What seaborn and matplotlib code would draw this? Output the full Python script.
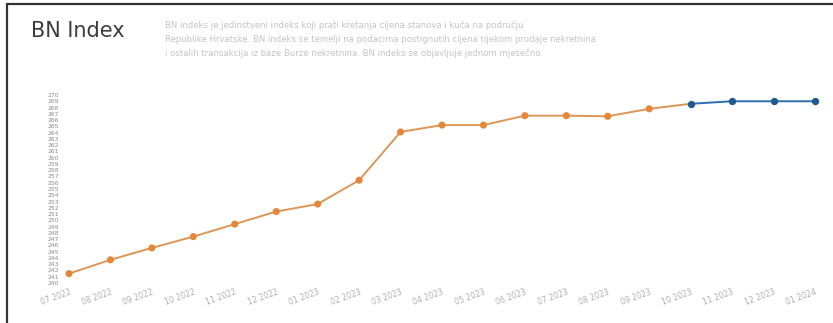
import numpy as np
import pandas as pd
import seaborn as sns
import matplotlib
matplotlib.use("Agg")
import matplotlib.pyplot as plt
from matplotlib.lines import Line2D

months = ["07 2022", "08 2022", "09 2022", "10 2022", "11 2022", "12 2022",
          "01 2023", "02 2023", "03 2023", "04 2023", "05 2023", "06 2023",
          "07 2023", "08 2023", "09 2023", "10 2023", "11 2023", "12 2023", "01 2024"]
actual_values = [241.5, 243.7, 245.6, 247.4, 249.4, 251.4, 252.6, 256.4, 264.1,
                 265.2, 265.2, 266.7, 266.7, 266.6, 267.8, 268.6]
forecast_values = [268.6, 269.0, 269.0, 269.0]
y_ticks = list(range(240, 271))

title = "BN Index"
description = ("BN indeks je jedinstveni indeks koji prati kretanja cijena stanova i kuća na području\n"
               "Republike Hrvatske. BN indeks se temelji na podacima postignutih cijena tijekom prodaje nekretnina\n"
               "i ostalih transakcija iz baze Burze nekretnina. BN indeks se objavljuje jednom mjesečno.")

sns.set_theme(style="white")
plt.rcParams['font.family'] = ['DejaVu Sans']

n_act = len(actual_values)
act_df = pd.DataFrame({"idx": np.arange(n_act), "value": actual_values})
fc_df = pd.DataFrame({"idx": np.arange(n_act - 1, n_act - 1 + len(forecast_values)),
                      "value": forecast_values})

W, H = 833, 323
fig = plt.figure(figsize=(W / 100, H / 100), dpi=100)
ax = fig.add_axes([62 / W, (H - 283) / H, 760 / W, 188 / H])

orange_line = "#dc9656"
orange_mk = "#e4873a"
blue_line = "#2d6fae"
blue_mk = "#1f5b93"

sns.lineplot(data=act_df, x="idx", y="value", ax=ax, color=orange_line, lw=1.4,
             clip_on=False)
sns.scatterplot(data=act_df.iloc[:-1], x="idx", y="value", ax=ax, color=orange_mk,
                s=26, edgecolor="none", clip_on=False, zorder=3)
sns.lineplot(data=fc_df, x="idx", y="value", ax=ax, color=blue_line, lw=1.4,
             marker="o", markersize=5.3, markeredgewidth=0, markerfacecolor=blue_mk,
             clip_on=False, zorder=4)

ax.set_xlim(-7 / 41.44, len(months) - 1 + 7 / 41.44)
ax.set_ylim(240, 270)
ax.set_xticks(range(len(months)))
ax.set_xticklabels(months, rotation=20, ha="right", rotation_mode="anchor",
                   fontsize=5.6, color="#b0b0b0")
ax.set_yticks(y_ticks)
ax.set_yticklabels([str(v) for v in y_ticks], fontsize=4.3, color="#8a8a8a")
ax.tick_params(axis="both", length=0, pad=2)
ax.tick_params(axis="x", pad=3)
ax.set_xlabel("")
ax.set_ylabel("")
for s in ax.spines.values():
    s.set_visible(False)
ax.grid(False)

fig.text(31 / W, 1 - 31 / H, title, fontsize=15, color="#3c3c3c", va="center", ha="left")
fig.text(165 / W, 1 - 21 / H, description, fontsize=6.1, color="#c4c4c4",
         va="top", ha="left", linespacing=1.6)

fig.add_artist(Line2D([7 / W, 1], [1 - 4 / H, 1 - 4 / H], color="#333333", lw=1.6,
                      transform=fig.transFigure))
fig.add_artist(Line2D([7 / W, 7 / W], [1 - 4 / H, 0], color="#333333", lw=1.6,
                      transform=fig.transFigure))

fig.savefig("out.png", dpi=100, facecolor="white")
